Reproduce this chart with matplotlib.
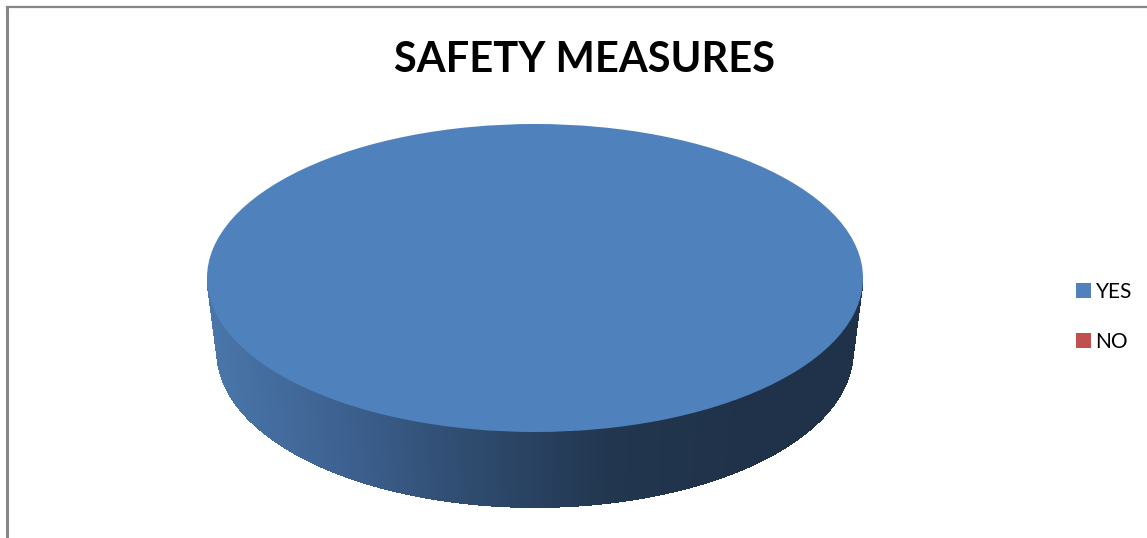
import numpy as np
import matplotlib.pyplot as plt
from matplotlib.patches import Polygon
from matplotlib.colors import LinearSegmentedColormap

labels = ['YES', 'NO']
values = [100, 0]
colors = ['#4f81bd', '#c0504d']

W, H = 1147, 538
fig = plt.figure(figsize=(W / 100, H / 100), dpi=100)
fig.patch.set_facecolor('white')

# thin grey frame along the top and left edges
fig.add_artist(plt.Line2D([7 / W, 7 / W], [0, 1 - 7 / H], color='#878787', lw=2.2))
fig.add_artist(plt.Line2D([7 / W, 1], [1 - 7 / H, 1 - 7 / H], color='#878787', lw=1.6))

fig.text(585 / W, 1 - 60 / H, 'SAFETY MEASURES', ha='center', va='center',
         fontsize=30, fontweight='bold', family='Lato')

# pie axes: unit radius maps to the top ellipse of the disc
cx, cy, rx, ry = 535, 278, 328, 154
ylo = -1.52
ax = fig.add_axes([(cx - rx) / W, (H - (cy - ry) - (1 - ylo) * ry) / H,
                   2 * rx / W, (1 - ylo) * ry / H])

depth = 0.48
rb, ryb = 0.97, 1.01
shade = LinearSegmentedColormap.from_list(
    'side', ['#4a76aa', '#3d6190', '#2e4a6d', '#22364f', '#1f3249'])

# wedge angles from the values, counter-clockwise from 90 degrees
fracs = np.array(values, dtype=float) / sum(values)
start = 90.0
for frac, col in zip(fracs, colors):
    if frac <= 0:
        continue
    t1, t2 = start, start + 360 * frac
    start = t2
    # side wall only where the wedge faces forward (180..360)
    for a0, a1 in [(180, 360), (540, 720)]:
        lo, hi = max(t1, a0), min(t2, a1)
        if hi <= lo:
            continue
        ts = np.radians(np.linspace(lo, hi, 400))
        for i in range(len(ts) - 1):
            ta, tb = ts[i], ts[i + 1] + 0.004
            quad = [(np.cos(ta), np.sin(ta)), (np.cos(tb), np.sin(tb)),
                    (rb * np.cos(tb), -depth + ryb * np.sin(tb)),
                    (rb * np.cos(ta), -depth + ryb * np.sin(ta))]
            xm = 0.5 * (np.cos(ta) + np.cos(tb))
            c = shade(np.clip((xm + 1) / 1.65, 0, 1))
            ax.add_patch(Polygon(quad, closed=True, facecolor=c,
                                 edgecolor='none', antialiased=False))

wedges, _ = ax.pie(values, colors=colors, startangle=90, counterclock=True,
                   radius=1, wedgeprops=dict(linewidth=0))
for w in wedges:
    w.set_zorder(3)

ax.set_aspect('auto')
ax.set_xlim(-1, 1)
ax.set_ylim(ylo, 1)
ax.axis('off')

# legend
leg = fig.legend(wedges, labels, loc='center left',
                 bbox_to_anchor=(1057 / W, 1 - 317 / H), frameon=False,
                 handlelength=0.75, handleheight=0.75, handletextpad=0.2,
                 labelspacing=1.45, prop={'family': 'Lato', 'size': 15})

fig.savefig('out.png', dpi=100, facecolor='white')
